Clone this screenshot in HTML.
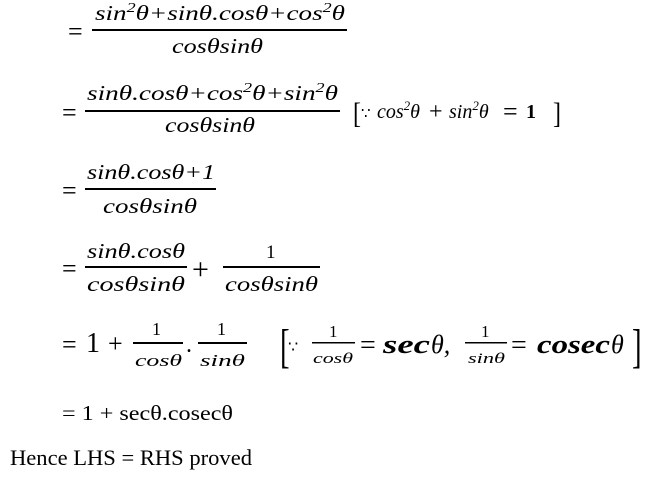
<!DOCTYPE html>
<html><head><meta charset="utf-8"><style>
html,body{margin:0;padding:0;background:#fff;}
svg{display:block;font-size:21px}
.i{font-family:"Liberation Serif",serif;font-style:italic;fill:#000}
.s{font-family:"Liberation Serif",serif;font-style:italic;fill:#000}
.n{font-family:"Liberation Serif",serif;fill:#000}
.m{font-family:"DejaVu Serif","Liberation Serif",serif;fill:#000}
.b{font-family:"Liberation Serif",serif;font-style:italic;font-weight:bold;fill:#000}
</style></head><body>
<svg width="646" height="491" viewBox="0 0 646 491" xmlns="http://www.w3.org/2000/svg">
<!-- line 1 -->
<text class="n" x="68" y="40" font-size="26">=</text>
<text class="i" x="95" y="20" font-size="21" textLength="250" lengthAdjust="spacingAndGlyphs">sin<tspan dy="-8" font-size="14">2</tspan><tspan dy="8">θ+sinθ.cosθ+cos</tspan><tspan dy="-8" font-size="14">2</tspan><tspan dy="8">θ</tspan></text>
<rect x="92" y="29" width="255" height="2" fill="#000"/>
<text class="i" x="172" y="53" font-size="21" textLength="91" lengthAdjust="spacingAndGlyphs">cosθsinθ</text>
<!-- line 2 -->
<text class="n" x="62" y="121" font-size="26">=</text>
<text class="i" x="87" y="100" font-size="21" textLength="251" lengthAdjust="spacingAndGlyphs">sinθ.cosθ+cos<tspan dy="-8" font-size="14">2</tspan><tspan dy="8">θ+sin</tspan><tspan dy="-8" font-size="14">2</tspan><tspan dy="8">θ</tspan></text>
<rect x="85" y="110" width="255" height="2" fill="#000"/>
<text class="i" x="165" y="132" font-size="21" textLength="90" lengthAdjust="spacingAndGlyphs">cosθsinθ</text>
<text class="n" x="353" y="123" font-size="30" transform="translate(353 0) scale(0.8 1) translate(-353 0)">[</text>
<text class="m" x="361" y="118" font-size="15">∵</text>
<text class="i" x="377" y="118" font-size="20">cos<tspan dy="-8" font-size="13">2</tspan><tspan dy="8">θ</tspan></text>
<text class="n" x="429" y="119" font-size="24">+</text>
<text class="i" x="449" y="118" font-size="20">sin<tspan dy="-8" font-size="13">2</tspan><tspan dy="8">θ</tspan></text>
<text class="n" x="503" y="120" font-size="26">=</text>
<text class="n" x="526" y="118" font-size="20" font-weight="bold">1</text>
<text class="n" x="553" y="123" font-size="30" transform="translate(553 0) scale(0.8 1) translate(-553 0)">]</text>
<!-- line 3 -->
<text class="n" x="62" y="199" font-size="26">=</text>
<text class="i" x="87" y="179" font-size="21" textLength="128" lengthAdjust="spacingAndGlyphs">sinθ.cosθ+1</text>
<rect x="85" y="188" width="131" height="2" fill="#000"/>
<text class="i" x="103" y="213" font-size="21" textLength="94" lengthAdjust="spacingAndGlyphs">cosθsinθ</text>
<!-- line 4 -->
<text class="n" x="62" y="277" font-size="26">=</text>
<text class="i" x="87" y="258" font-size="21" textLength="98" lengthAdjust="spacingAndGlyphs">sinθ.cosθ</text>
<rect x="85" y="266" width="102" height="2" fill="#000"/>
<text class="i" x="87" y="291" font-size="21" textLength="98" lengthAdjust="spacingAndGlyphs">cosθsinθ</text>
<text class="n" x="192" y="279" font-size="30">+</text>
<text class="n" x="266" y="258" font-size="19">1</text>
<rect x="223" y="266" width="97" height="2" fill="#000"/>
<text class="i" x="225" y="291" font-size="21" textLength="93" lengthAdjust="spacingAndGlyphs">cosθsinθ</text>
<!-- line 5 -->
<text class="n" x="62" y="353" font-size="26">=</text>
<text class="n" x="86" y="352" font-size="28">1</text>
<text class="n" x="108" y="352" font-size="26">+</text>
<text class="n" x="152" y="335" font-size="18">1</text>
<rect x="133" y="342" width="50" height="2" fill="#000"/>
<text class="s" x="135" y="366" font-size="17" textLength="47" lengthAdjust="spacingAndGlyphs">cosθ</text>
<text class="n" x="186" y="352" font-size="24">.</text>
<text class="n" x="217" y="335" font-size="18">1</text>
<rect x="198" y="342" width="49" height="2" fill="#000"/>
<text class="s" x="200" y="366" font-size="17" textLength="45" lengthAdjust="spacingAndGlyphs">sinθ</text>
<text class="n" x="280" y="362" font-size="48" transform="translate(280 0) scale(0.6 1) translate(-280 0)">[</text>
<text class="m" x="288" y="352" font-size="16">∵</text>
<text class="n" x="329" y="337" font-size="17">1</text>
<rect x="312" y="342" width="43" height="1.5" fill="#000"/>
<text class="s" x="313" y="363" font-size="15" textLength="40" lengthAdjust="spacingAndGlyphs">cosθ</text>
<text class="n" x="360" y="354" font-size="28">=</text>
<text class="b" x="383" y="353" font-size="26" textLength="47" lengthAdjust="spacingAndGlyphs">sec</text>
<text class="i" x="431" y="353" font-size="26">θ,</text>
<text class="n" x="481" y="337" font-size="17">1</text>
<rect x="465" y="342" width="42" height="1.5" fill="#000"/>
<text class="s" x="468" y="363" font-size="15" textLength="37" lengthAdjust="spacingAndGlyphs">sinθ</text>
<text class="n" x="511" y="354" font-size="28">=</text>
<text class="b" x="537" y="353" font-size="26" textLength="73" lengthAdjust="spacingAndGlyphs">cosec</text>
<text class="i" x="611" y="353" font-size="26">θ</text>
<text class="n" x="632" y="362" font-size="48" transform="translate(632 0) scale(0.6 1) translate(-632 0)">]</text>
<!-- line 6 -->
<text class="n" x="62" y="420" font-size="21" textLength="171" lengthAdjust="spacingAndGlyphs">= 1 + secθ.cosecθ</text>
<!-- line 7 -->
<text class="n" x="10" y="465" font-size="22" textLength="242" lengthAdjust="spacingAndGlyphs">Hence LHS = RHS proved</text>
</svg>
</body></html>
